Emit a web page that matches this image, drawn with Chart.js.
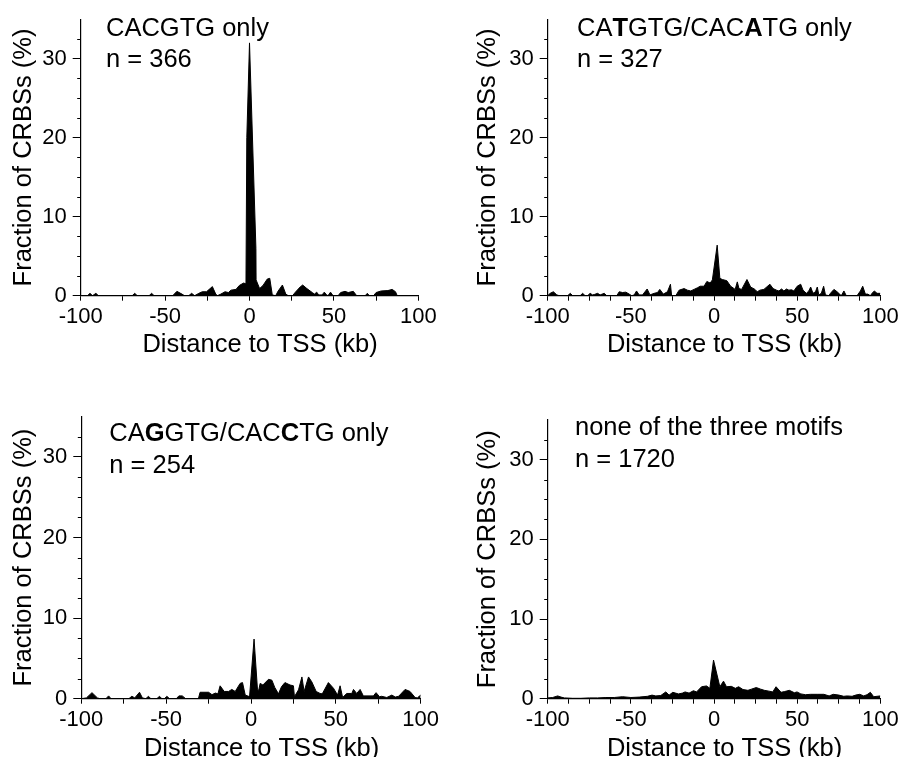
<!DOCTYPE html>
<html><head><meta charset="utf-8">
<script src="https://cdn.jsdelivr.net/npm/chart.js@4.4.1/dist/chart.umd.min.js"></script>
<style>
html,body{margin:0;padding:0;background:#fff;width:902px;height:757px;overflow:hidden;}
.panel{position:absolute;}
canvas{display:block;}
</style></head><body>
<div class="panel" style="left:0;top:0"><canvas id="c1" width="451" height="378"></canvas></div>
<div class="panel" style="left:451px;top:0"><canvas id="c2" width="451" height="378"></canvas></div>
<div class="panel" style="left:0;top:378px"><canvas id="c3" width="451" height="379"></canvas></div>
<div class="panel" style="left:451px;top:378px"><canvas id="c4" width="451" height="379"></canvas></div>
<script>
// ---------- data ----------
const distA = [-100,-96,-94.5,-93,-91,-89.5,-69.5,-68,-66.5,-59.5,-58,-56.5,-45.5,-43,-40,-38.5,-36,-34.3,-32.5,-30,-28,-25.5,-22,-20,-19,-17,-14.5,-12.5,-11,-8,-6,-3.5,-2.1,-1.6,0,3.8,3.9,6,8,10.5,12,13.5,15.5,17,19.5,21.5,23,25.5,27,30,31.5,34,37.5,38.5,39.8,41,43,44.3,45.7,46.5,48,49.5,52.5,54,56.6,58.5,61.5,63.5,68.5,69.8,71,73.5,75,78,82,84.5,86.5,87.5,100];
const fracA = [0,0,0.3,0,0.3,0,0,0.3,0,0,0.3,0,0,0.55,0.2,0,0,0.3,0,0.3,0.5,0.5,1.15,0.2,0,0.2,0.5,0.4,0.7,0.8,1.3,1.6,1.5,20,32,6,2.0,0.9,1.3,2.1,2.2,0.1,0,0.6,1.35,0.2,0,0,0.4,1.1,1.35,0.9,0.35,0.2,0.45,0.1,0.1,0.45,0.1,0,0.45,0,0,0.4,0.55,0.4,0.55,0,0,0.3,0,0,0.4,0.6,0.65,0.8,0.5,0,0];

const distB = [-100,-98.5,-96.6,-94.5,-93,-88,-86.4,-85,-80.5,-79,-77.5,-76,-74.5,-73,-72,-70,-68.5,-66,-64.5,-58.5,-57,-55,-53,-51,-49.5,-48,-46.6,-45,-43,-40.2,-38.5,-36,-34,-32.6,-30.5,-28,-26.2,-25.5,-23,-21,-18,-16,-14,-12,-10,-8.3,-6,-4.3,-2.3,-1,1.9,3.5,5,7.7,10,12.7,14,15,16.6,19.8,22,24.6,26,27.6,30,33.6,35.5,37.6,39,40.6,42,43.6,45,46.6,48,50,52.1,53.5,55.5,57,58.1,59.5,61,62.1,63,64.5,65.9,67,69,70,72.1,74,75.5,76.5,78.1,79.5,86,88,89.4,91,92.5,94,95,96.4,98,100];
const fracB = [0,0.3,0.5,0.1,0,0,0.3,0,0,0.3,0,0,0.3,0.1,0.15,0.3,0.1,0.3,0,0,0.5,0.4,0.45,0.2,0,0.1,0.6,0.1,0.1,0.85,0.1,0.3,0.4,0.8,0.2,0.5,1.45,0,0,0.7,0.9,0.7,0.6,0.8,1.0,1.2,1.2,1.8,1.6,2.0,6.4,2.2,2.05,1.9,1.2,0.8,1.75,0.9,0.8,2.05,1.1,0.8,0.5,0.7,0.8,1.45,0.9,0.7,0.6,0.85,0.6,0.85,0.7,0.75,0.6,1.2,1.45,0.7,0.3,0.6,1.1,0.3,0.5,1.1,0.1,0.3,1.2,0.1,0,0.3,0.8,0.5,0.2,0,0.6,0,0,0.6,1.2,0.2,0.2,0,0.3,0.6,0.3,0.3];

const distC = [-100,-97,-93.7,-90.5,-89,-85.5,-83.9,-82.5,-72,-70.2,-68.5,-65.7,-64,-62,-60.4,-59,-55.5,-53.9,-52.5,-51,-49.6,-48,-44,-42.5,-40.5,-38.5,-31,-30,-25,-23,-21,-19.5,-18.2,-15.8,-13.2,-11.3,-9.3,-6.4,-5,-3.4,-1.5,-0.8,1.8,3.8,4.5,5.4,7,10.3,12.3,14,16.2,18,20,23,25,25.6,28,30,31.3,33.9,35.8,38.4,40.7,42,45.6,48.6,51,52.5,54,56.4,59.4,60.4,62.3,64.3,66.2,72.1,73.7,75.7,77,80,83,85,87,90.8,93.7,96.7,98,100];
const fracC = [0,0.1,0.75,0.1,0,0,0.35,0,0,0.3,0.1,0.8,0.1,0,0.3,0,0,0.3,0,0,0.3,0,0,0.35,0.35,0,0,0.8,0.8,0.5,0.7,0.6,1.6,0.9,0.9,1.15,0.9,1.9,2.0,0.45,0.3,0.4,7.4,1.2,1.0,1.9,1.7,2.4,2.3,1.4,0.6,1.5,2.0,1.7,1.6,0.25,1.1,2.7,0.9,2.7,2.1,0.9,0.65,0.6,2.0,1.3,0.45,1.6,0.15,0.65,0.65,1.15,0.65,1.15,0.35,0.35,0.75,0.25,0.3,0.15,0.45,0.2,0.3,1.15,0.9,0.15,0.1,0.45];

const distD = [-100,-97,-94,-92,-90,-85,-80,-75,-70,-65,-60,-55,-50,-45,-40,-37.3,-35,-32,-29,-27,-24.8,-21.4,-19,-17.4,-15,-12.4,-10.5,-7.5,-4.5,-2.5,-0.3,3.5,5.7,7.5,10.4,12.8,14.8,17.4,20.4,22.5,25.4,28,30.3,33,35.3,37.3,40.3,42.5,45.3,48.3,49.9,52.2,55,58,62,66,69.2,71.7,75.1,78,80.1,83,85.1,87.6,90,92,94,96,98,100];
const fracD = [0.1,0.15,0.35,0.2,0.1,0.05,0.05,0.1,0.1,0.15,0.15,0.25,0.15,0.2,0.3,0.45,0.35,0.4,0.85,0.45,0.8,0.6,0.7,0.85,0.7,1.0,0.85,1.5,1.6,1.3,4.85,1.5,2.2,1.5,1.55,1.3,1.5,1.15,1.05,1.2,1.4,1.2,1.05,0.95,0.85,1.5,0.8,0.9,1.05,0.75,0.85,0.6,0.5,0.55,0.55,0.55,0.35,0.55,0.45,0.3,0.35,0.3,0.45,0.55,0.35,0.5,0.8,0.25,0.3,0.35];

const xTickValues = [-100, -50, 0, 50, 100];
const yTickValues = [0, 10, 20, 30];
const panelLabels = [
  [['CACGTG only', false]],
  [['CA', false], ['T', true], ['GTG/CAC', false], ['A', true], ['TG only', false]],
  [['CA', false], ['G', true], ['GTG/CAC', false], ['C', true], ['TG only', false]],
  [['none of the three motifs', false]]
];
const panelCounts = [366, 327, 254, 1720];
const xTitle = 'Distance to TSS (kb)';
const yTitle = 'Fraction of CRBSs (%)';

// ---------- layout / style ----------
const FONT = '"Liberation Sans", Arial, Helvetica, sans-serif';
const panels = [
  {id:'c1', xs:distA, ys:fracA, W:451, H:378, cl:80.7, cr:418.3, ct:16.7, cb:295.7, minorStep:25, ytp:8.4, annX:106, annY1:35.5, annY2:66.7, xtY:351.7},
  {id:'c2', xs:distB, ys:fracB, W:451, H:378, cl:96.7, cr:432.0, ct:16.7, cb:295.7, minorStep:12.5, ytp:21.7, annX:126, annY1:35.5, annY2:66.7, xtY:351.7},
  {id:'c3', xs:distC, ys:fracC, W:451, H:379, cl:81.3, cr:420.7, ct:38.6, cb:320.7, minorStep:25, ytp:8.4, annX:109.3, annY1:63.3, annY2:95, xtY:378.3},
  {id:'c4', xs:distD, ys:fracD, W:451, H:379, cl:96.7, cr:432.7, ct:41.8, cb:320.7, minorStep:12.5, ytp:21.7, annX:124, annY1:57.3, annY2:89.3, xtY:378.3}
];
const X_SCALE_H = 40;

const decoPlugin = {
  id: 'deco',
  afterDraw(chart, args, opts) {
    const ctx = chart.ctx;
    const ys = chart.scales.y;
    const ca = chart.chartArea;
    ctx.save();
    // minor y ticks (every 2.5)
    ctx.strokeStyle = '#000';
    ctx.lineWidth = 1;
    for (let v = 2.5; v < 35; v += 2.5) {
      if (v % 10 === 0) continue;
      const py = Math.round(ys.getPixelForValue(v)) + 0.5;
      ctx.beginPath();
      ctx.moveTo(ca.left - 3.5, py);
      ctx.lineTo(ca.left, py);
      ctx.stroke();
    }
    ctx.fillStyle = '#000';
    ctx.textBaseline = 'alphabetic';
    // x title
    ctx.font = '25.5px ' + FONT;
    ctx.textAlign = 'center';
    ctx.fillText(xTitle, (ca.left + ca.right) / 2 + 10.5, opts.xtY);
    // annotation
    ctx.textAlign = 'left';
    let x = opts.annX;
    for (const [txt, bold] of opts.segments) {
      ctx.font = (bold ? 'bold ' : '') + '25.5px ' + FONT;
      ctx.fillText(txt, x, opts.annY1);
      x += ctx.measureText(txt).width;
    }
    ctx.font = '25.5px ' + FONT;
    ctx.fillText('n = ' + opts.count, opts.annX, opts.annY2);
    ctx.restore();
  }
};

panels.forEach((p, i) => {
  const minorTicks = [];
  for (let v = -100; v <= 100; v += p.minorStep) minorTicks.push(v);
  const data = p.xs.map((x, k) => ({x: x, y: p.ys[k]}));
  new Chart(document.getElementById(p.id), {
    type: 'line',
    data: {datasets: [{data: data, fill: 'origin', backgroundColor: '#000', borderColor: '#000', borderWidth: 1, pointRadius: 0, tension: 0}]},
    options: {
      responsive: false, animation: false, devicePixelRatio: 1,
      layout: {padding: {left: 0, top: p.ct, right: p.W - p.cr, bottom: p.H - p.cb - X_SCALE_H}},
      plugins: {
        legend: {display: false}, tooltip: {enabled: false},
        deco: {segments: panelLabels[i], count: panelCounts[i], annX: p.annX, annY1: p.annY1, annY2: p.annY2, xtY: p.xtY}
      },
      scales: {
        x: {
          type: 'linear', min: -100, max: 100,
          afterBuildTicks: s => { s.ticks = minorTicks.map(v => ({value: v})); },
          afterFit: s => { s.height = X_SCALE_H; },
          ticks: {autoSkip: false, maxRotation: 0, padding: 3.3, color: '#000', font: {family: FONT, size: 22},
                  callback: v => xTickValues.includes(v) ? String(v) : ''},
          grid: {drawOnChartArea: false, drawTicks: true, tickLength: 5, tickColor: '#000', tickWidth: 1},
          border: {display: true, color: '#000', width: 1.2}
        },
        y: {
          type: 'linear', min: 0, max: 35,
          afterBuildTicks: s => { s.ticks = yTickValues.map(v => ({value: v})); },
          afterFit: s => { s.width = p.cl; },
          ticks: {padding: 6, color: '#000', font: {family: FONT, size: 22}},
          grid: {drawOnChartArea: false, drawTicks: true, tickLength: 8, tickColor: '#000', tickWidth: 1},
          border: {display: true, color: '#000', width: 1.2},
          title: {display: true, text: yTitle, color: '#000', font: {family: FONT, size: 25.5}, padding: {top: p.ytp, bottom: 0}}
        }
      }
    },
    plugins: [decoPlugin]
  });
});
</script>
</body></html>
